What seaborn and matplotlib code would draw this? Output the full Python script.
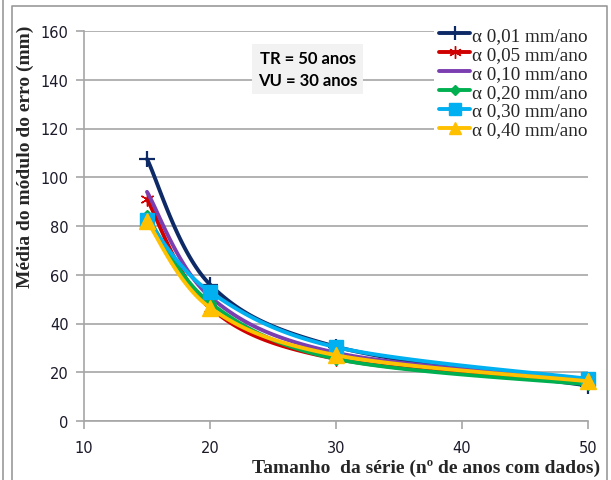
import numpy as np
import matplotlib
matplotlib.use("Agg")
import matplotlib.pyplot as plt
import seaborn as sns
from matplotlib.lines import Line2D

sns.set_theme(style="white")
plt.rcParams['font.family'] = ['DejaVu Sans']

# ---- data ----
x_vals = [15, 20, 30, 50]
labels = ["α 0,01 mm/ano", "α 0,05 mm/ano", "α 0,10 mm/ano",
          "α 0,20 mm/ano", "α 0,30 mm/ano", "α 0,40 mm/ano"]
s001 = [107.5, 56, 30.5, 14.5]
s005 = [91, 46.5, 25.5, 15.5]
s010 = [94, 51, 28, 17]
s020 = [84, 48.5, 25.5, 15]
s030 = [82.5, 53, 30.3, 17.3]
s040 = [82, 46.5, 27, 16.3]
series = [s001, s005, s010, s020, s030, s040]
x_ticks = [10, 20, 30, 40, 50]
y_ticks = [0, 20, 40, 60, 80, 100, 120, 140, 160]

colors = ["#0d2a66", "#d00000", "#7a3eb0", "#00b050", "#00b0f0", "#ffc000"]
markers = ["+", (6, 2, 0), None, "D", "s", "^"]
msizes = [12, 10, 0, 6, 10, 11]
mews = [1.6, 1.0, 0, 1, 1, 1]
leg_msizes = [10, 9, 0, 5, 8, 9]


def smooth(xs, ys, n=40):
    P = np.column_stack([xs, ys]).astype(float)
    out = []
    for i in range(len(P) - 1):
        p0 = P[i - 1] if i > 0 else P[i]
        p1 = P[i]
        p2 = P[i + 1]
        p3 = P[i + 2] if i + 2 < len(P) else P[i + 1]
        c1 = p1 + (p2 - p0) / 6
        c2 = p2 - (p3 - p1) / 6
        t = np.linspace(0, 1, n)[:, None]
        b = ((1 - t) ** 3) * p1 + 3 * ((1 - t) ** 2) * t * c1 + 3 * (1 - t) * t ** 2 * c2 + t ** 3 * p2
        out.append(b if i == 0 else b[1:])
    B = np.vstack(out)
    return B[:, 0], B[:, 1]


fig = plt.figure(figsize=(6.11, 4.81), dpi=100)
ax = fig.add_axes([84 / 611, 1 - 422 / 481, (588 - 84) / 611, (422 - 32) / 481])

for i, (ys, c) in enumerate(zip(series, colors)):
    sx, sy = smooth(x_vals, ys)
    sns.lineplot(x=sx, y=sy, sort=False, estimator=None, color=c, linewidth=2.8, ax=ax, zorder=3 + i)
    if markers[i] is not None:
        ax.plot(x_vals, ys, linestyle="none", marker=markers[i], markersize=msizes[i],
                color=c, markeredgecolor=c, markeredgewidth=mews[i], zorder=3 + i, clip_on=False)

ax.set_xlim(10, 50)
ax.set_ylim(0, 160)
ax.set_xticks(x_ticks)
ax.set_yticks(y_ticks)
ax.yaxis.grid(True, color="#a6a6a6", linewidth=1.2)
ax.xaxis.grid(False)
for s in ["top", "right"]:
    ax.spines[s].set_visible(False)
for s in ["left", "bottom"]:
    ax.spines[s].set_color("#a6a6a6")
    ax.spines[s].set_linewidth(1.2)
ax.tick_params(axis="both", which="both", direction="out", length=6, width=1.2,
               color="#a6a6a6", labelsize=10.5, labelcolor="#1a1a2a", pad=5)
ax.tick_params(axis="x", pad=8)
ax.tick_params(left=True, bottom=True)

# axis labels
fig.text(600 / 611, 1 - 468 / 481, "Tamanho  da série (nº de anos com dados)",
         ha="right", va="center", fontsize=14, fontweight="bold", family="Liberation Serif")
fig.text(25 / 611, 1 - 157 / 481, "Média do módulo do erro (mm)", rotation=90,
         ha="center", va="center", fontsize=14, fontweight="bold", family="Liberation Serif")

# annotation box
ax.text(27.75, 144.4, "TR = 50 anos\nVU = 30 anos", ha="center", va="center",
        fontsize=12, fontweight="bold", family="Lato", color="black", linespacing=1.45,
        bbox=dict(boxstyle="square,pad=0.35", facecolor="#f2f2f2", edgecolor="none"), zorder=10)

# legend
handles = []
for i, c in enumerate(colors):
    handles.append(Line2D([0], [0], color=c, linewidth=2.8, marker=markers[i] if markers[i] else None,
                          markersize=leg_msizes[i], markeredgewidth=mews[i], markeredgecolor=c))
leg = fig.legend(handles=handles, labels=labels, loc="upper left",
                 bbox_to_anchor=(424 / 611, 1 - 12 / 481), frameon=True, framealpha=1,
                 facecolor="white", edgecolor="none",
                 prop={"family": "Liberation Serif", "size": 13.8},
                 handlelength=1.6, handletextpad=0.1, labelspacing=0.08, borderpad=0.3)
leg.set_zorder(20)

# chart borders
fig.add_artist(Line2D([3 / 611, 3 / 611], [0, 1], transform=fig.transFigure, color="#999999", linewidth=1.2))
fig.add_artist(Line2D([12 / 611, 12 / 611, 607 / 611, 607 / 611],
                      [0, 1 - 7 / 481, 1 - 7 / 481, 0], transform=fig.transFigure,
                      color="#999999", linewidth=1.2))

fig.savefig("out.png", dpi=100)
